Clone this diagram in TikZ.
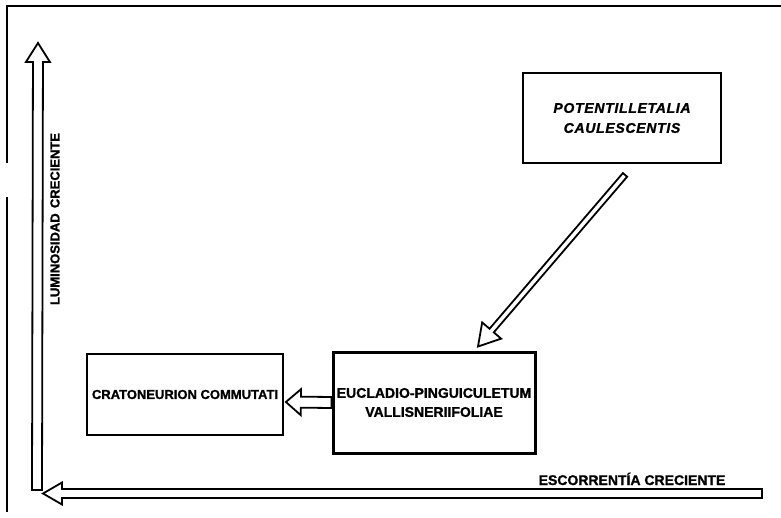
\documentclass[tikz,border=0pt]{standalone}
\usepackage{fontspec}
\setmainfont[BoldFeatures={FakeBold=1.2}]{Liberation Sans}
\newfontfamily\potfont[LetterSpace=5,BoldItalicFeatures={FakeBold=1.2}]{Liberation Sans}
\usetikzlibrary{calc}
\newcommand\hollowarr[6][]{%
  \coordinate (hb) at ($(#3)!#6!(#2)$);
  \draw[hollow,#1] ($(#2)!#4!90:(#3)$) -- ($(hb)!#4!90:(#3)$) -- ($(hb)!#5!90:(#3)$)
    -- (#3) -- ($(hb)!#5!-90:(#3)$) -- ($(hb)!#4!-90:(#3)$) -- ($(#2)!#4!-90:(#3)$) -- cycle;}
\begin{document}
\begin{tikzpicture}[x=1pt,y=-1pt,
  box/.style={draw, line width=1.8pt, inner sep=0pt, align=center},
  hollow/.style={draw, fill=white, line width=1.8pt, line join=miter},
  frame/.style={line width=1.3pt}]
\useasboundingbox (0,0) rectangle (781,518);
% frame
\draw[frame] (781,6) -- (7,6) -- (7,163);
\draw[frame] (7,197) -- (7,512);
% boxes
\node[box, minimum width=198pt, minimum height=90pt,
  font=\potfont\bfseries\itshape\fontsize{14}{20}\selectfont] (pot) at (622,118)
  {POTENTILLETALIA\\CAULESCENTIS};
\node[box, line width=3pt, minimum width=202pt, minimum height=101pt,
  font=\bfseries\fontsize{14}{19}\selectfont] (euc) at (434,402.5)
  {EUCLADIO-PINGUICULETUM\\VALLISNERIIFOLIAE};
\node[box, minimum width=196pt, minimum height=81pt,
  font=\bfseries\fontsize{13}{16}\selectfont] (cra) at (185,394.5)
  {CRATONEURION COMMUTATI};
% axes
\coordinate (vS) at (37,490);
\coordinate (vT) at (38,43);
\coordinate (hS) at (762,493.5);
\coordinate (hT) at (43,493.5);
\hollowarr{vS}{vT}{5pt}{12pt}{19pt}
\hollowarr{hS}{hT}{4.5pt}{11pt}{19pt}
% connectors
\coordinate (dS) at ($(pot.south)+(3,11)$);
\coordinate (dT) at ($(euc.north)+(44,-4)$);
\hollowarr{dS}{dT}{2.8pt}{12.5pt}{21pt}
\coordinate (sS) at (euc.west);
\coordinate (sT) at ($(cra.east)+(2,7.5)$);
\hollowarr{sS}{sT}{5.5pt}{13pt}{15pt}
% labels
\node[font=\bfseries\fontsize{14}{14}\selectfont, anchor=base, inner sep=0pt] (xl) at (632,485)
  {ESCORRENTÍA CRECIENTE};
\node[font=\bfseries\fontsize{13}{13}\selectfont, rotate=90, inner sep=0pt] (yl) at (55,219)
  {LUMINOSIDAD\hspace{0.4em}CRECIENTE};
\end{tikzpicture}
\end{document}
